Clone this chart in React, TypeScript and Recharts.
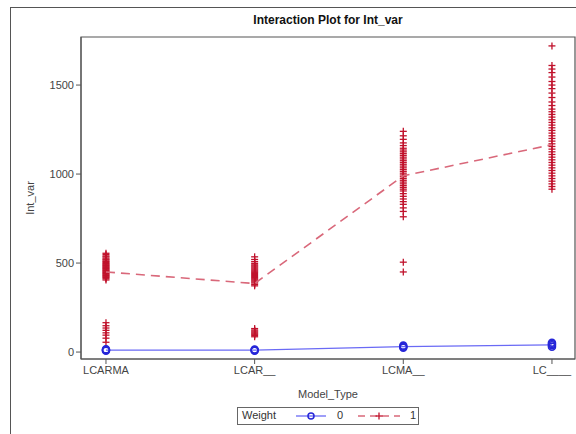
import {
  ReferenceArea,
  Scatter,
  ScatterChart,
  XAxis,
  YAxis,
} from "recharts";

const categories = ["LCARMA", "LCAR__", "LCMA__", "LC____"];
const yTicks = [0, 500, 1000, 1500];

// Weight = 1 observations per model type
const w1LCARMA = [
  555, 548, 540, 535, 528, 522, 518, 512, 508, 503, 498, 494, 490, 486, 482,
  478, 474, 470, 466, 462, 458, 454, 450, 446, 442, 438, 434, 430, 426, 422,
  418, 412, 405, 165, 148, 135, 122, 108, 95, 78, 55,
];
const w1LCAR = [
  535, 520, 508, 498, 490, 484, 478, 472, 466, 460, 454, 448, 442, 436, 430,
  424, 418, 412, 406, 400, 394, 388, 380, 372, 132, 124, 118, 112, 106, 100,
  94, 86,
];
const w1LCMA = [
  1240, 1215, 1195, 1175, 1160, 1145, 1135, 1125, 1115, 1105, 1095, 1085,
  1075, 1065, 1055, 1045, 1035, 1025, 1015, 1005, 995, 985, 975, 965, 955,
  945, 935, 925, 915, 905, 890, 875, 860, 845, 830, 810, 790, 760, 505, 450,
];
const w1LC = [
  1720, 1610, 1590, 1570, 1545, 1520, 1500, 1480, 1455, 1430, 1405, 1385,
  1365, 1350, 1335, 1320, 1305, 1290, 1275, 1260, 1245, 1230, 1215, 1200,
  1185, 1170, 1155, 1140, 1125, 1110, 1095, 1080, 1065, 1050, 1035, 1020,
  1005, 990, 975, 960, 945, 930, 915,
];
const w1Means = [450, 385, 990, 1165];

// Weight = 0 observations
const w0LCARMA = [8, 12, 15];
const w0LCAR = [8, 11, 14];
const w0LCMA = [25, 30, 36];
const w0LC = [30, 38, 45, 52];
const w0Means = [11, 11, 30, 40];

const RED = "#C0122C";
const RED_LINE = "#D9687A";
const BLUE = "#2626D8";
const BLUE_LINE = "#6A6AF5";

const toPoints = (groups: number[][]) =>
  groups.flatMap((vals, i) => vals.map((y) => ({ x: i, y })));

const w1Data = toPoints([w1LCARMA, w1LCAR, w1LCMA, w1LC]);
const w0Data = toPoints([w0LCARMA, w0LCAR, w0LCMA, w0LC]);
const w1MeanData = w1Means.map((y, x) => ({ x, y }));
const w0MeanData = w0Means.map((y, x) => ({ x, y }));

const X_MIN = -0.168;
const X_MAX = 3.155;
const Y_MIN = -39;
const Y_MAX = 1770;

const font = "'Liberation Sans', Arial, sans-serif";

function Plus(props: any) {
  const { cx, cy } = props;
  if (cx == null || cy == null) return <g />;
  return (
    <g stroke={RED} strokeWidth={1.3}>
      <line x1={cx - 3.5} x2={cx + 3.5} y1={cy} y2={cy} />
      <line x1={cx} x2={cx} y1={cy - 3.5} y2={cy + 3.5} />
    </g>
  );
}

function Ring(props: any) {
  const { cx, cy } = props;
  if (cx == null || cy == null) return <g />;
  return <circle cx={cx} cy={cy} r={3.5} fill="none" stroke={BLUE} strokeWidth={1.6} />;
}

const NoMark = () => <g />;

export default function App() {
  return (
    <div
      style={{
        position: "absolute",
        left: 0,
        top: 0,
        width: 576,
        height: 434,
        overflow: "hidden",
        background: "#fff",
        fontFamily: font,
      }}
    >
      <div
        style={{
          position: "absolute",
          left: 10,
          top: 7,
          width: 700,
          height: 600,
          borderLeft: "1.5px solid #555",
          borderTop: "1.5px solid #555",
        }}
      />
      <div
        style={{
          position: "absolute",
          left: 81,
          width: 494,
          top: 13,
          textAlign: "center",
          fontWeight: "bold",
          fontSize: 12,
          color: "#111",
        }}
      >
        Interaction Plot for Int_var
      </div>
      <div
        style={{
          position: "absolute",
          left: 30,
          top: 198,
          transform: "translate(-50%, -50%) rotate(-90deg)",
          fontSize: 11,
          color: "#444",
          whiteSpace: "nowrap",
        }}
      >
        Int_var
      </div>
      <div
        style={{
          position: "absolute",
          left: 81,
          width: 494,
          top: 388,
          textAlign: "center",
          fontSize: 11,
          color: "#444",
        }}
      >
        Model_Type
      </div>

      <ScatterChart
        width={576}
        height={434}
        margin={{ top: 37, right: 1, bottom: 45, left: 0 }}
        style={{ position: "absolute", left: 0, top: 0 }}
      >
        <XAxis
          type="number"
          dataKey="x"
          domain={[X_MIN, X_MAX]}
          ticks={[0, 1, 2, 3]}
          tickFormatter={(v: number) => categories[v] ?? ""}
          allowDataOverflow
          height={30}
          stroke="#555"
          tickSize={5}
          tick={{ fill: "#444", fontSize: 11, fontFamily: font }}
        />
        <YAxis
          type="number"
          dataKey="y"
          domain={[Y_MIN, Y_MAX]}
          ticks={yTicks}
          allowDataOverflow
          width={81}
          stroke="#555"
          tickSize={5}
          tick={{ fill: "#444", fontSize: 11, fontFamily: font }}
        />
        <ReferenceArea
          x1={X_MIN}
          x2={X_MAX}
          y1={Y_MIN}
          y2={Y_MAX}
          fill="none"
          stroke="#555"
          strokeWidth={1.2}
          ifOverflow="visible"
        />
        <Scatter data={w1Data} shape={Plus} isAnimationActive={false} />
        <Scatter
          data={w1MeanData}
          shape={NoMark}
          line={{ stroke: RED_LINE, strokeWidth: 1.6, strokeDasharray: "9 6" }}
          isAnimationActive={false}
        />
        <Scatter
          data={w0MeanData}
          shape={NoMark}
          line={{ stroke: BLUE_LINE, strokeWidth: 1.3 }}
          isAnimationActive={false}
        />
        <Scatter data={w0Data} shape={Ring} isAnimationActive={false} />
      </ScatterChart>

      <div
        style={{
          position: "absolute",
          left: 237,
          top: 407,
          width: 180,
          height: 16,
          border: "1px solid #666",
          fontSize: 11,
          color: "#333",
        }}
      >
        <span style={{ position: "absolute", left: 4, top: 1 }}>Weight</span>
        <svg
          style={{ position: "absolute", left: 58, top: 0 }}
          width={34}
          height={16}
        >
          <line x1={0} x2={30} y1={8} y2={8} stroke={BLUE_LINE} strokeWidth={1.3} />
          <circle cx={15} cy={8} r={3} fill="none" stroke={BLUE} strokeWidth={1.5} />
        </svg>
        <span style={{ position: "absolute", left: 99, top: 1 }}>0</span>
        <svg
          style={{ position: "absolute", left: 120, top: 0 }}
          width={44}
          height={16}
        >
          <line
            x1={0}
            x2={42}
            y1={8}
            y2={8}
            stroke={RED_LINE}
            strokeWidth={1.5}
            strokeDasharray="7 5"
          />
          <line x1={17.5} x2={24.5} y1={8} y2={8} stroke={RED} strokeWidth={1.3} />
          <line x1={21} x2={21} y1={4.5} y2={11.5} stroke={RED} strokeWidth={1.3} />
        </svg>
        <span style={{ position: "absolute", left: 172, top: 1 }}>1</span>
      </div>
    </div>
  );
}
